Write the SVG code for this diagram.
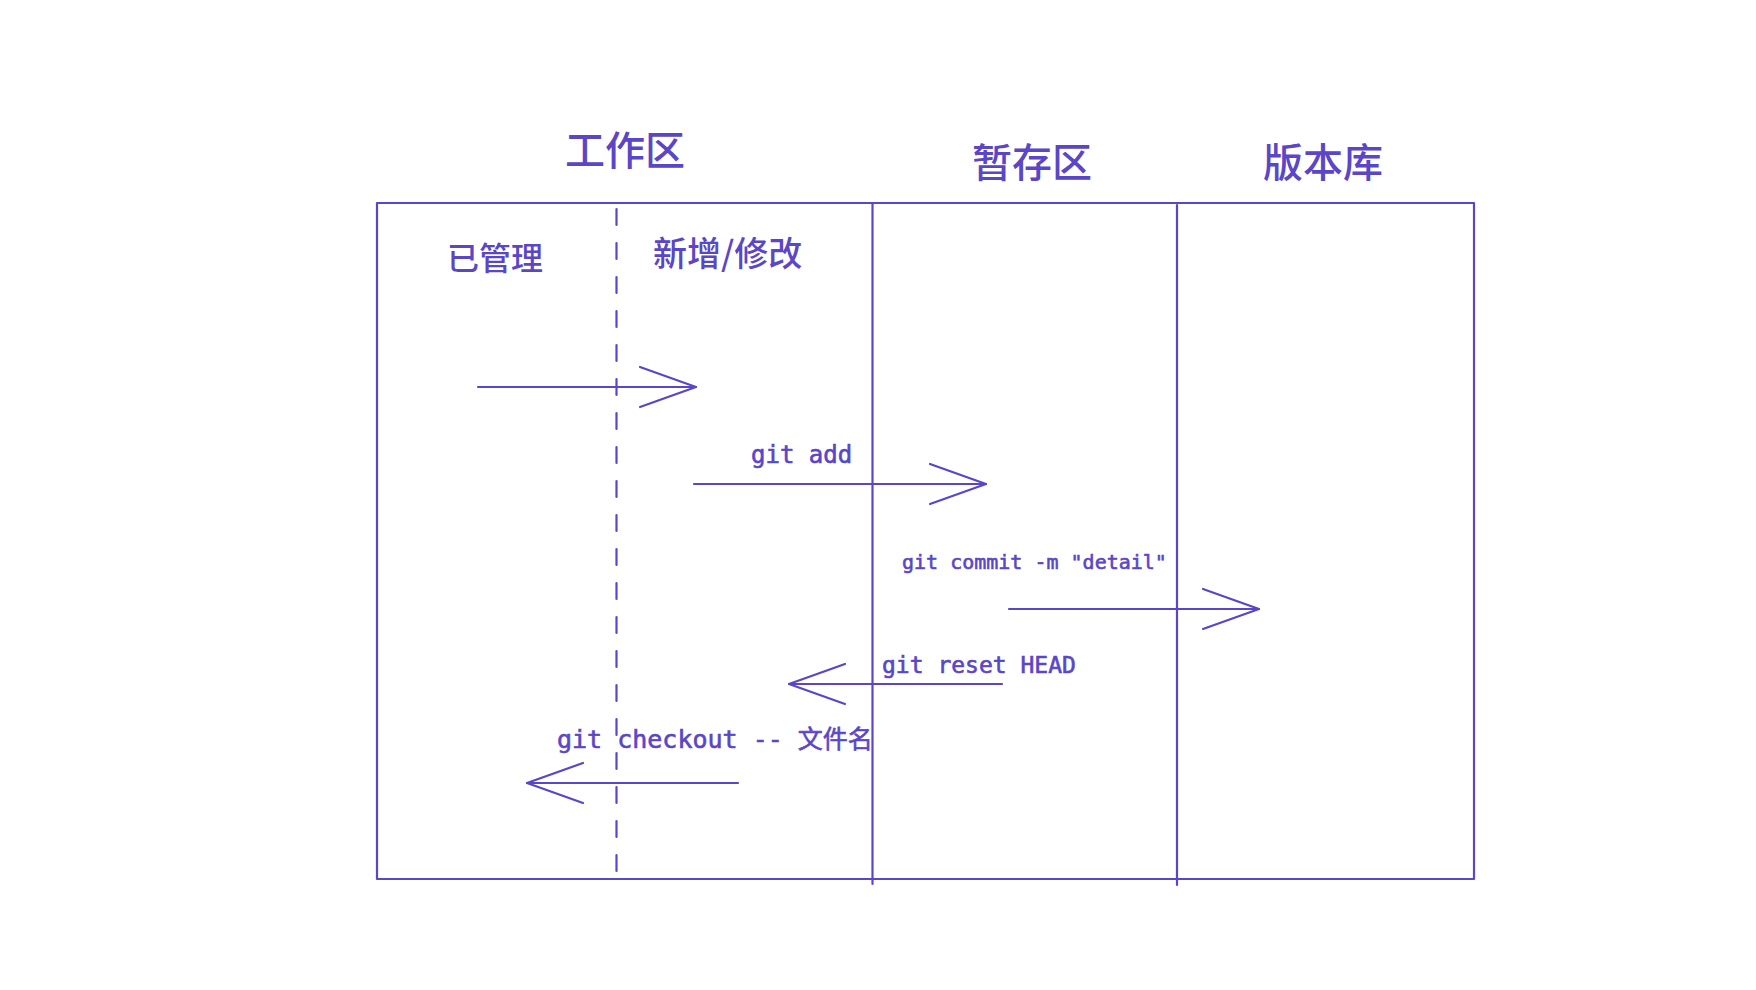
<svg xmlns="http://www.w3.org/2000/svg" width="1756" height="990" viewBox="0 0 1756 990">
  <style>
    .ln { stroke: #5a46c6; stroke-width: 2.2; fill: none; stroke-linecap: round; stroke-linejoin: round; }
    .cjk { font-family: "Noto Sans CJK SC", "Noto Sans", sans-serif; fill: #5a46c6; font-weight: 500; }
    .code { font-family: "DejaVu Sans Mono", "Noto Sans CJK SC", monospace; fill: #5a46c6; stroke: #5a46c6; stroke-width: 0.6; }
  </style>
  <rect width="1756" height="990" fill="#ffffff"/>

  <g id="titles">
    <text class="cjk" x="625" y="165" font-size="40" text-anchor="middle">工作区</text>
    <text class="cjk" x="1032" y="177" font-size="40" text-anchor="middle">暂存区</text>
    <text class="cjk" x="1323" y="177" font-size="40" text-anchor="middle">版本库</text>
  </g>

  <g id="frame">
    <rect class="ln" x="377" y="203" width="1097" height="676"/>
    <line class="ln" x1="616.5" y1="209" x2="616.5" y2="874" stroke-dasharray="16 18" stroke-linecap="butt" stroke-width="3"/>
    <line class="ln" x1="872.5" y1="204" x2="872.5" y2="884"/>
    <line class="ln" x1="1177" y1="205" x2="1177" y2="885"/>
  </g>

  <g id="sublabels">
    <text class="cjk" x="447" y="270" font-size="32">已管理</text>
    <text class="cjk" x="653" y="266" font-size="34">新增/修改</text>
  </g>

  <g id="connectors">
    <g id="arrow-managed-to-new">
      <line class="ln" x1="478" y1="387" x2="696" y2="387"/>
      <polyline class="ln" points="640,367 696,387 640,407"/>
    </g>
    <g id="arrow-git-add">
      <line class="ln" x1="694" y1="484" x2="986" y2="484"/>
      <polyline class="ln" points="930,464 986,484 930,504"/>
      <text class="code" x="751" y="463" font-size="24">git add</text>
    </g>
    <g id="arrow-git-commit">
      <line class="ln" x1="1009" y1="609" x2="1259" y2="609"/>
      <polyline class="ln" points="1203,589 1259,609 1203,629"/>
      <text class="code" x="902" y="569" font-size="20">git commit -m "detail"</text>
    </g>
    <g id="arrow-git-reset">
      <line class="ln" x1="1002" y1="684" x2="789" y2="684"/>
      <polyline class="ln" points="845,664 789,684 845,704"/>
      <text class="code" x="882" y="673" font-size="23">git reset HEAD</text>
    </g>
    <g id="arrow-git-checkout">
      <line class="ln" x1="738" y1="783" x2="527" y2="783"/>
      <polyline class="ln" points="583,763 527,783 583,803"/>
      <text class="code" x="557" y="748" font-size="25">git checkout -- 文件名</text>
    </g>
  </g>
</svg>
